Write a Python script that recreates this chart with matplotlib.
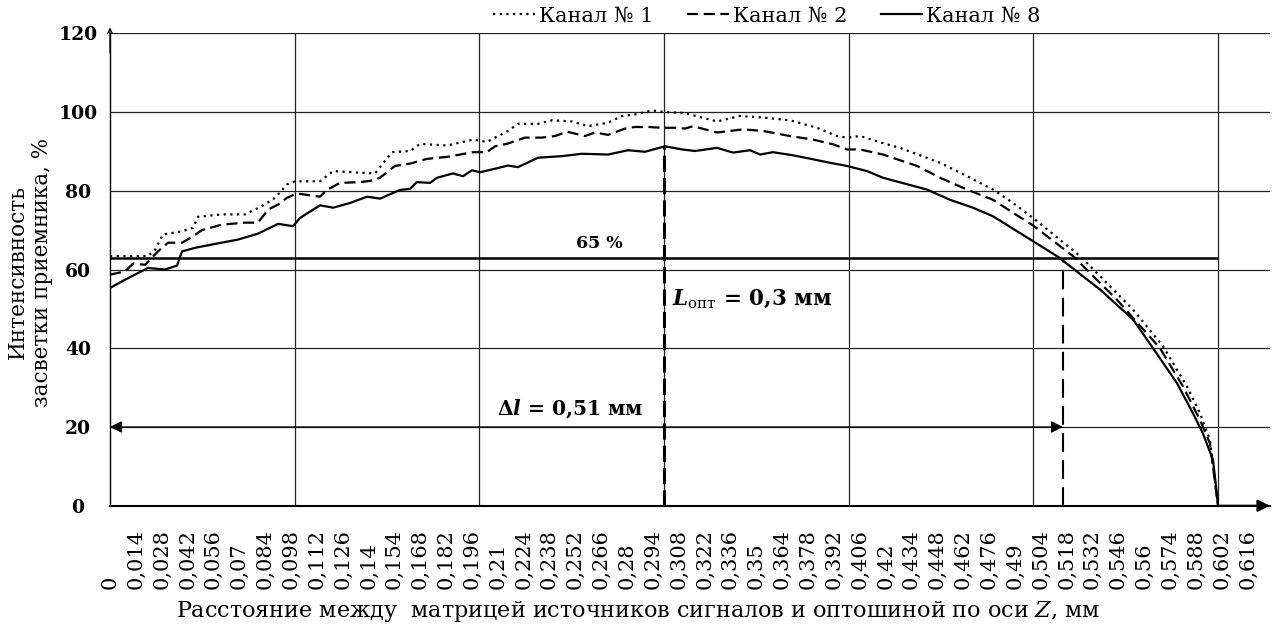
import numpy as np
import matplotlib
matplotlib.use("Agg")
import matplotlib.pyplot as plt

plt.rcParams["font.family"] = ["DejaVu Serif"]
plt.rcParams["mathtext.fontset"] = "dejavuserif"

# distance along Z, mm, and intensity, %
ch1_x = [0, 0.0206, 0.0244, 0.0287, 0.039, 0.0449, 0.0477, 0.0606, 0.0731, 0.0823, 0.0894,
         0.0958, 0.1002, 0.1137, 0.1208, 0.1354, 0.1435, 0.1527, 0.1625, 0.1679, 0.1825,
         0.1966, 0.2041, 0.2085, 0.2155, 0.2209, 0.2318, 0.2393, 0.2502, 0.2588, 0.2697,
         0.2773, 0.2843, 0.2935, 0.3005, 0.3097, 0.3141, 0.3287, 0.3411, 0.3536, 0.3682,
         0.3828, 0.3937, 0.3991, 0.4061, 0.4207, 0.4278, 0.4495, 0.4641, 0.4782, 0.489,
         0.4998, 0.5253, 0.554, 0.5702, 0.5832, 0.5902, 0.5956, 0.6]
ch1_y = [63.4, 63.4, 65.0, 68.9, 69.7, 70.6, 73.4, 74.0, 74.0, 76.1, 78.2,
         81.6, 82.4, 82.4, 85.0, 84.6, 84.4, 89.8, 90.1, 91.9, 91.5,
         93.0, 92.4, 93.5, 95.2, 97.0, 97.0, 97.9, 97.6, 96.4, 97.3,
         99.0, 99.4, 100.4, 100.0, 99.8, 99.4, 97.6, 99.0, 98.6, 97.9,
         96.0, 93.9, 93.5, 93.9, 91.8, 90.9, 87.1, 83.7, 80.3, 76.9,
         73.1, 63.4, 49.8, 40.5, 30.3, 23.5, 16.7, 0]

ch2_x = [0, 0.0081, 0.0125, 0.019, 0.026, 0.0314, 0.039, 0.0449, 0.0498, 0.0606, 0.0731,
         0.0801, 0.0856, 0.091, 0.0958, 0.1002, 0.1029, 0.1137, 0.1175, 0.1245, 0.1354,
         0.1408, 0.1462, 0.1543, 0.1625, 0.1717, 0.1825, 0.1895, 0.1966, 0.2041, 0.2085,
         0.2155, 0.2247, 0.2339, 0.241, 0.2475, 0.2572, 0.2626, 0.2697, 0.2789, 0.2843,
         0.2913, 0.2989, 0.306, 0.3114, 0.3157, 0.3287, 0.3428, 0.3536, 0.3682, 0.3807,
         0.3915, 0.3991, 0.4061, 0.4186, 0.437, 0.4495, 0.4641, 0.4782, 0.489, 0.4998,
         0.5215, 0.5453, 0.5686, 0.581, 0.5902, 0.5956, 0.6]
ch2_y = [58.7, 59.5, 61.5, 61.2, 64.6, 66.8, 66.8, 68.4, 70.0, 71.4, 71.9,
         71.9, 75.2, 76.5, 78.2, 79.1, 79.2, 78.5, 80.2, 82.0, 82.2,
         82.5, 83.3, 86.3, 86.9, 88.1, 88.6, 89.2, 89.8, 89.8, 91.3,
         92.0, 93.5, 93.5, 93.9, 95.0, 93.9, 94.8, 94.2, 95.8, 96.2,
         96.2, 96.0, 96.0, 95.8, 96.4, 94.8, 95.6, 95.2, 93.9, 93.0,
         91.8, 90.5, 90.5, 89.2, 86.3, 83.3, 80.3, 77.7, 74.4, 71.2,
         63.4, 52.3, 40.0, 30.3, 21.8, 15.9, 0]

ch8_x = [0, 0.0081, 0.0152, 0.0206, 0.0298, 0.0363, 0.039, 0.046, 0.0569, 0.0693, 0.0801,
         0.091, 0.0991, 0.1029, 0.1137, 0.1208, 0.13, 0.1392, 0.1462, 0.157, 0.1625,
         0.1662, 0.1733, 0.1771, 0.1857, 0.1912, 0.196, 0.2004, 0.2085, 0.2155, 0.2209,
         0.2318, 0.2448, 0.2556, 0.2697, 0.2805, 0.2897, 0.3005, 0.3097, 0.3168, 0.3287,
         0.3374, 0.3466, 0.352, 0.359, 0.3699, 0.3807, 0.3899, 0.3991, 0.4099, 0.4186,
         0.4424, 0.4549, 0.4673, 0.4782, 0.4998, 0.5134, 0.5361, 0.554, 0.5648, 0.5778,
         0.5864, 0.5918, 0.5973, 0.6]
ch8_y = [55.3, 57.4, 59.1, 60.4, 60.0, 61.0, 64.6, 65.5, 66.5, 67.6, 69.1,
         71.6, 71.0, 73.1, 76.3, 75.7, 76.9, 78.5, 78.0, 80.2, 80.5,
         82.2, 82.0, 83.3, 84.4, 83.7, 85.2, 84.7, 85.6, 86.4, 86.0,
         88.4, 88.8, 89.4, 89.2, 90.3, 89.9, 91.3, 90.5, 90.1, 90.9,
         89.7, 90.3, 89.2, 89.8, 89.0, 88.0, 87.1, 86.3, 85.0, 83.3,
         80.3, 77.7, 75.7, 73.5, 67.2, 63.2, 54.9, 47.3, 40.0, 31.1,
         23.5, 18.4, 11.6, 0]

tick_vals = np.round(np.arange(0, 0.617, 0.014), 3)
tick_labels = [f"{v:.3f}".rstrip("0").rstrip(".").replace(".", ",") for v in tick_vals]
level_65 = 62.8
l_opt = 0.3
l_opt_top = 91.3
delta_l = 0.516

fig = plt.figure(figsize=(12.73, 6.28), dpi=100)
ax = fig.add_axes([0.0864, 0.1947, 0.9112, 0.7523])
ax.set_xlim(0, 0.6281)
ax.set_ylim(0, 120)

# grid
for y in range(20, 121, 20):
    ax.axhline(y, color="#222222", lw=0.9, zorder=1)
for x in np.arange(0.1, 0.61, 0.1):
    ax.vlines(x, 0, 120, color="#222222", lw=0.9, zorder=1)

ax.plot(ch1_x, ch1_y, color="black", lw=1.6, linestyle=(0, (1, 2)), label="Канал № 1", zorder=3)
ax.plot(ch2_x, ch2_y, color="black", lw=1.6, linestyle=(0, (5, 2.5)), label="Канал № 2", zorder=3)
ax.plot(ch8_x, ch8_y, color="black", lw=1.6, label="Канал № 8", zorder=3)

ax.hlines(level_65, 0, 0.6, color="black", lw=1.8, zorder=2)
ax.vlines(l_opt, 0, l_opt_top, color="black", lw=2.2, linestyles=[(0, (5.3, 2))], zorder=4)
ax.vlines(delta_l, 0, level_65, color="black", lw=1.5, linestyles=[(0, (9, 4))], zorder=4)

ax.annotate("", xy=(0, 20), xytext=(delta_l, 20),
            arrowprops=dict(arrowstyle="<|-|>", color="black", lw=0.9, mutation_scale=18,
                            shrinkA=0, shrinkB=0))
ax.annotate("", xy=(0.628, 0), xytext=(0.6, 0), annotation_clip=False,
            arrowprops=dict(arrowstyle="-|>", color="black", lw=1.5, mutation_scale=18,
                            shrinkA=0, shrinkB=0))
ax.annotate("", xy=(0, 121.5), xytext=(0, 115), annotation_clip=False,
            arrowprops=dict(arrowstyle="->", color="black", lw=0.9, mutation_scale=8,
                            shrinkA=0, shrinkB=0))

ax.text(0.265, 66.6, "65 %", fontsize=12.5, fontweight="bold", ha="center", va="center")
ax.text(0.3043, 52.3, r"$\mathbfit{L}_{\mathrm{опт}}$ = 0,3 мм", fontsize=15.5,
        fontweight="bold", ha="left", va="center")
ax.text(0.249, 24.4, r"Δ$\mathbfit{l}$ = 0,51 мм", fontsize=14.5,
        fontweight="bold", ha="center", va="center")

for s in ["top", "right"]:
    ax.spines[s].set_visible(False)
ax.spines["left"].set_linewidth(1.0)
ax.spines["bottom"].set_linewidth(1.5)

ax.set_yticks(range(0, 121, 20))
ax.tick_params(axis="y", length=0, pad=23, labelsize=13.5)
for lab in ax.get_yticklabels():
    lab.set_fontweight("bold")
    lab.set_ha("center")

ax.set_xticks(tick_vals)
ax.set_xticklabels(tick_labels, rotation=90, fontsize=15)
ax.tick_params(axis="x", length=0, pad=60)
for lab in ax.get_xticklabels():
    lab.set_va("bottom")

fig.text(638 / 1273, 1 - 612 / 628,
         r"Расстояние между  матрицей источников сигналов и оптошиной по оси $Z$, мм",
         fontsize=16, ha="center", va="center")
fig.text(30 / 1273, 1 - 272 / 628, "Интенсивность\nзасветки приемника, %",
         fontsize=15.5, rotation=90, ha="center", va="center", linespacing=1.1)

fig.legend(loc="center", bbox_to_anchor=(767 / 1273, 1 - 16 / 628), ncol=3, frameon=False,
           fontsize=15, handlelength=2.0, handletextpad=0.2, columnspacing=1.6)

fig.savefig("out.png", dpi=100)
